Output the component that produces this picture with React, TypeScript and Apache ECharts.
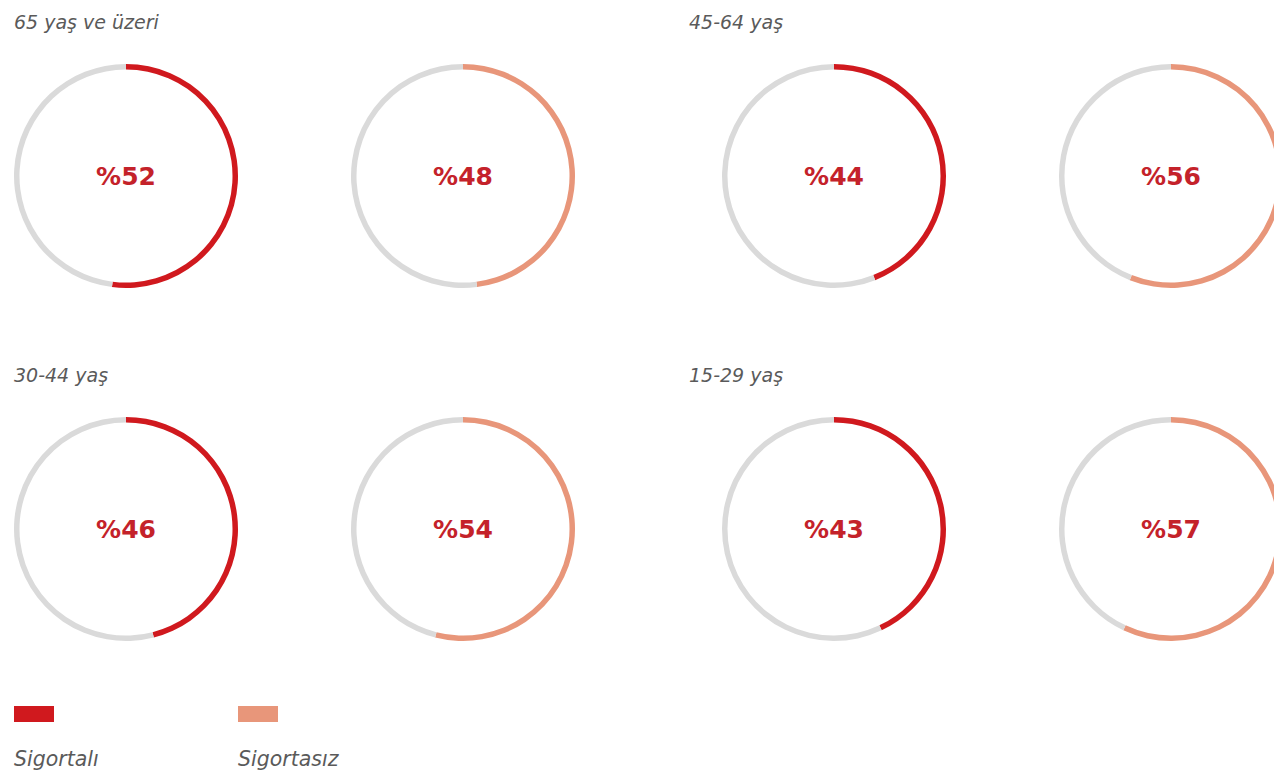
import React, { useEffect, useRef } from "react";
import * as echarts from "echarts";

const groups = ["65 yaş ve üzeri", "45-64 yaş", "30-44 yaş", "15-29 yaş"];
const insured = [52, 44, 46, 43];
const uninsured = [48, 56, 54, 57];
const legendNames = ["Sigortalı", "Sigortasız"];

const RED = "#d0191e";
const ORANGE = "#e8967a";
const GRAY = "#dadada";
const TEXTRED = "#c4222a";

export default function App() {
  const ref = useRef<HTMLDivElement>(null);
  useEffect(() => {
    const chart = echarts.init(ref.current!, null, { renderer: "svg" });
    const colX = [126, 463, 834, 1171];
    const rowY = [176, 529];
    const titlePos = [
      [14, 22],
      [689, 22],
      [14, 375],
      [689, 375],
    ];
    const series: any[] = [];
    const graphics: any[] = [];
    groups.forEach((g, i) => {
      const r = Math.floor(i / 2);
      const c = (i % 2) * 2;
      graphics.push({
        type: "text",
        left: titlePos[i][0],
        top: titlePos[i][1] - 10,
        style: {
          text: g,
          fill: "#5a5a5a",
          font: "italic 19px 'DejaVu Sans'",
        },
      });
      const vals = [insured[i], uninsured[i]];
      const cols = [RED, ORANGE];
      vals.forEach((v, k) => {
        series.push({
          type: "pie",
          name: g + " " + legendNames[k],
          center: [colX[c + k], rowY[r]],
          radius: [106.5, 112],
          startAngle: 90,
          clockwise: true,
          silent: true,
          labelLine: { show: false },
          label: { show: false },
          emphasis: { disabled: true },
          data: [
            {
              value: v,
              name: legendNames[k],
              itemStyle: { color: cols[k] },
              label: {
                show: true,
                position: "center",
                formatter: "%" + v,
                color: TEXTRED,
                fontSize: 25,
                fontWeight: "bold",
                fontFamily: "DejaVu Sans",
                padding: [9, 0, 0, 0],
              },
            },
            { value: 100 - v, name: "", itemStyle: { color: GRAY } },
          ],
        });
      });
    });
    const legendX = [14, 238];
    legendNames.forEach((n, k) => {
      graphics.push({
        type: "rect",
        shape: { x: legendX[k], y: 706, width: 40, height: 16 },
        style: { fill: k === 0 ? RED : ORANGE },
      });
      graphics.push({
        type: "text",
        left: legendX[k],
        top: 749,
        style: { text: n, fill: "#5a5a5a", font: "italic 20.5px 'DejaVu Sans'" },
      });
    });
    chart.setOption({
      animation: false,
      backgroundColor: "#fff",
      series,
      graphic: graphics,
    });
    return () => chart.dispose();
  }, []);
  return (
    <div
      ref={ref}
      style={{ position: "fixed", left: 0, top: 0, width: 1274, height: 773 }}
    />
  );
}
